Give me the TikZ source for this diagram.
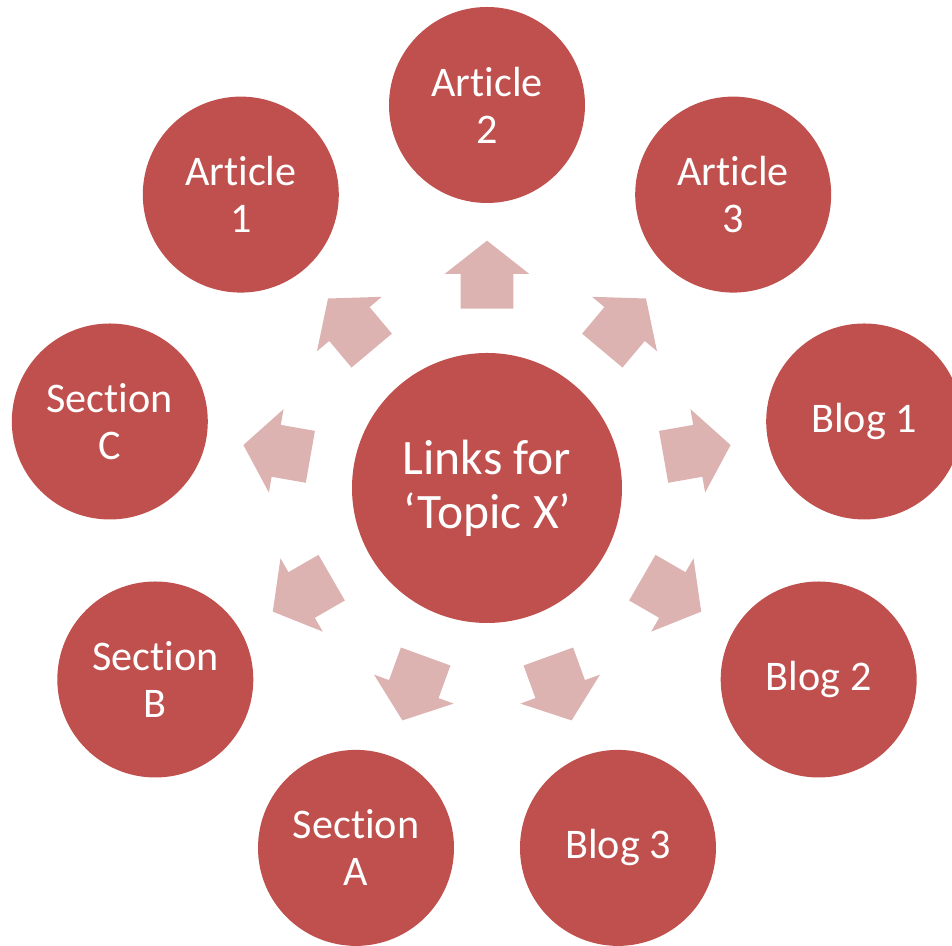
\documentclass[tikz,border=0pt]{standalone}
\usepackage{fontspec}
\setmainfont{Carlito}[Ligatures=NoCommon]
\usetikzlibrary{shapes.arrows}
\definecolor{circlered}{HTML}{C0504D}
\definecolor{arrowpink}{HTML}{DDB3B2}

\begin{document}
\begin{tikzpicture}[main node/.style={circle,fill=circlered,text=white,minimum size=3.92cm,inner sep=0pt,
                        align=center,font=\fontsize{24}{26.7}\selectfont},
                      hub node/.style={main node,minimum size=5.4cm,font=\fontsize{28.2}{30.7}\selectfont},
                      link arrow/.style={single arrow,fill=arrowpink,minimum height=1.36cm,inner xsep=0pt,inner ysep=0.52cm,
                        single arrow head extend=0.32cm,single arrow tip angle=103.6,anchor=tail}]

      \useasboundingbox (-9.74,-9.16) rectangle (9.30,9.76);

      \node[hub node] (0) at (0,0) {Links for\\‘Topic X’};
      \node[main node] (1) at (90:7.66) {Article\\2};
      \node[main node] (2) at (130:7.66) {Article\\1};
      \node[main node] (3) at (170:7.66) {Section\\C};
      \node[main node] (4) at (210:7.66) {Section\\B};
      \node[main node] (5) at (250:7.66) {Section\\A};
      \node[main node] (6) at (290:7.66) {Blog 3};
      \node[main node] (7) at (330:7.66) {Blog 2};
      \node[main node] (8) at (10:7.66) {Blog 1};
      \node[main node] (9) at (50:7.66) {Article\\3};

      \node[link arrow,rotate=90] (a1) at (90:3.58) {};
      \node[link arrow,rotate=130] (a2) at (130:3.58) {};
      \node[link arrow,rotate=170] (a3) at (170:3.58) {};
      \node[link arrow,rotate=210] (a4) at (210:3.58) {};
      \node[link arrow,rotate=250] (a5) at (250:3.58) {};
      \node[link arrow,rotate=290] (a6) at (290:3.58) {};
      \node[link arrow,rotate=330] (a7) at (330:3.58) {};
      \node[link arrow,rotate=10] (a8) at (10:3.58) {};
      \node[link arrow,rotate=50] (a9) at (50:3.58) {};
    \end{tikzpicture}
\end{document}
